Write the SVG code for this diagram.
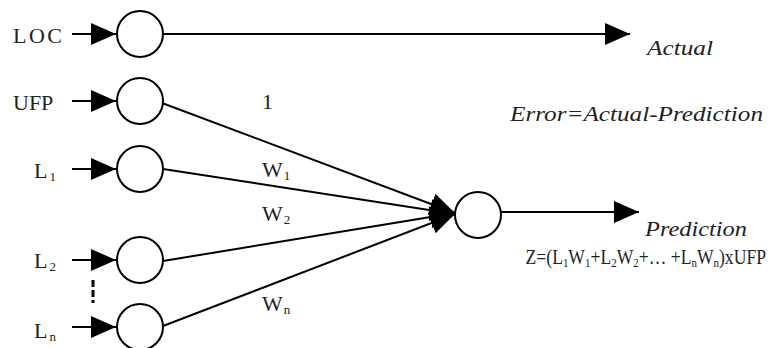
<svg xmlns="http://www.w3.org/2000/svg" width="773" height="348" viewBox="0 0 773 348">
<style>
.n{fill:#fff;stroke:#000;stroke-width:2}
.c{stroke:#000;stroke-width:2;fill:none}
.t{font-family:"Liberation Serif","Times New Roman",serif;font-size:22px;fill:#222}
.z{font-family:"Liberation Serif","Times New Roman",serif;font-size:21px;fill:#222}
.i{font-family:"Liberation Serif","Times New Roman",serif;font-style:italic;font-size:21px;fill:#222}
.s{font-size:13px}
</style>
<defs>
<marker id="a" viewBox="0 0 25 22" refX="25" refY="11" markerWidth="25" markerHeight="22" markerUnits="userSpaceOnUse" orient="auto">
<path d="M0,0 L25,11 L0,22 Z" fill="#000"/>
</marker>
</defs>
<rect width="773" height="348" fill="#fff"/>
<g id="connectors">
<line class="c" x1="72" y1="34" x2="116" y2="34" marker-end="url(#a)"/>
<line class="c" x1="72" y1="101" x2="116" y2="101" marker-end="url(#a)"/>
<line class="c" x1="72" y1="169" x2="116" y2="169" marker-end="url(#a)"/>
<line class="c" x1="72" y1="260" x2="116" y2="260" marker-end="url(#a)"/>
<line class="c" x1="72" y1="327" x2="116" y2="327" marker-end="url(#a)"/>
<line x1="93" y1="280" x2="93" y2="303" stroke="#000" stroke-width="3" stroke-dasharray="7 3 7 3 4"/>
<line class="c" x1="163" y1="34" x2="630" y2="34" marker-end="url(#a)"/>
<line class="c" x1="162" y1="103" x2="455" y2="213" marker-end="url(#a)"/>
<line class="c" x1="163" y1="169" x2="455" y2="214" marker-end="url(#a)"/>
<line class="c" x1="163" y1="261" x2="455" y2="213" marker-end="url(#a)"/>
<line class="c" x1="163" y1="326" x2="455" y2="214" marker-end="url(#a)"/>
<line class="c" x1="501" y1="212" x2="639" y2="212" marker-end="url(#a)"/>
</g>
<g id="node-loc"><circle class="n" cx="140" cy="34" r="23"/><text class="t" x="13" y="43" textLength="49">LOC</text></g>
<g id="node-ufp"><circle class="n" cx="140" cy="101" r="23"/><text class="t" x="13" y="110">UFP</text></g>
<g id="node-l1"><circle class="n" cx="140" cy="169" r="23"/><text class="t" x="34" y="178">L<tspan class="s" dx="2" dy="3">1</tspan></text></g>
<g id="node-l2"><circle class="n" cx="140" cy="260" r="23"/><text class="t" x="34" y="268">L<tspan class="s" dx="2" dy="3">2</tspan></text></g>
<g id="node-ln"><circle class="n" cx="140" cy="327" r="23"/><text class="t" x="34" y="338">L<tspan class="s" dx="2" dy="3">n</tspan></text></g>
<g id="node-out"><circle class="n" cx="478" cy="215" r="23"/></g>
<g id="labels">
<text class="t" x="262" y="109">1</text>
<text class="t" x="262" y="177">W<tspan class="s" dx="1" dy="3">1</tspan></text>
<text class="t" x="262" y="221">W<tspan class="s" dx="1" dy="3">2</tspan></text>
<text class="t" x="262" y="311">W<tspan class="s" dx="1" dy="3">n</tspan></text>
<text class="i" x="647" y="55" textLength="66" lengthAdjust="spacingAndGlyphs">Actual</text>
<text class="i" x="510" y="121" textLength="253" lengthAdjust="spacingAndGlyphs">Error=Actual-Prediction</text>
<text class="i" x="645" y="236" textLength="102" lengthAdjust="spacingAndGlyphs">Prediction</text>
<text class="z" text-anchor="end" transform="translate(766,264) scale(0.84,1)">Z=(L<tspan class="s" dy="3">1</tspan><tspan dy="-3">W</tspan><tspan class="s" dy="3">1</tspan><tspan dy="-3">+L</tspan><tspan class="s" dy="3">2</tspan><tspan dy="-3">W</tspan><tspan class="s" dy="3">2</tspan><tspan dy="-3">+… +L</tspan><tspan class="s" dy="3">n</tspan><tspan dy="-3">W</tspan><tspan class="s" dy="3">n</tspan><tspan dy="-3">)xUFP</tspan></text>
</g>
</svg>
